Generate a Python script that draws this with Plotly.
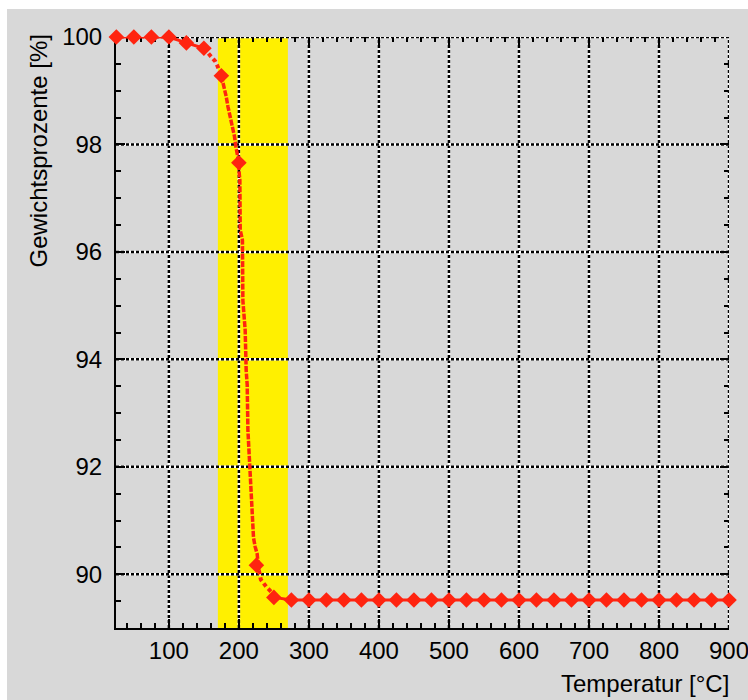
import plotly.graph_objects as go

# Thermogravimetric curve: mass percentage vs. temperature
# Sampled temperatures (every 25 °C) with measured mass
temp_steps = [25, 50, 75, 100, 125, 150, 175, 200, 225, 250, 275, 300, 325, 350,
              375, 400, 425, 450, 475, 500, 525, 550, 575, 600, 625, 650, 675, 700,
              725, 750, 775, 800, 825, 850, 875, 900]
mass_steps = [100.0, 100.0, 100.0, 100.0, 99.89, 99.79, 99.28, 97.66, 90.17, 89.57,
              89.52, 89.52, 89.52, 89.52, 89.52, 89.52, 89.52, 89.52, 89.52, 89.52,
              89.52, 89.52, 89.52, 89.52, 89.52, 89.52, 89.52, 89.52, 89.52, 89.52,
              89.52, 89.52, 89.52, 89.52, 89.52, 89.52]

# Continuous recording through the decomposition step
curve_temp = [150, 166.1, 169.4, 171.9, 175, 179.0, 181.9, 184.3, 187.6, 190.9,
              193.7, 195.7, 197.6, 200, 200.3, 201.4, 201.9, 205.1, 205.7, 209.0,
              210.4, 211.9, 212.9, 215.1, 218.6, 220.0, 220.9, 223.3, 226.1, 228.6,
              231.4, 239.0, 247.1, 250]
curve_mass = [99.79, 99.55, 99.46, 99.39, 99.28, 99.07, 98.89, 98.71, 98.52, 98.33,
              98.15, 97.96, 97.81, 97.66, 97.49, 97.34, 96.41, 96.22, 95.10, 94.54,
              93.80, 93.52, 92.68, 92.12, 91.47, 91.00, 90.68, 90.51, 90.38, 90.07,
              89.90, 89.77, 89.66, 89.57]

# Highlighted decomposition window
band_temp = [170, 270]

x_ticks = [100, 200, 300, 400, 500, 600, 700, 800, 900]
y_ticks = [90, 92, 94, 96, 98, 100]
x_range = [24.5, 900]
y_range = [89, 100]

RED = "#ff2410"
GRAY = "#d8d8d8"
YELLOW = "#fff000"
FONT = "Liberation Sans, Arial, sans-serif"
FS = 24

# plot box in pixels: left 116, right 729, top 37, bottom 628
W, H = 748, 700
L, R, T, B = 116, 19, 37, 72
pw, ph = W - L - R, H - T - B


def px_x(p):
    return (p - L) / pw


def px_y(p):
    return (H - B - p) / ph


fig = go.Figure()


def seg(lo, hi):
    xs, ys = [], []
    for t, m in zip(curve_temp, curve_mass):
        if lo <= t <= hi:
            xs.append(t)
            ys.append(m)
    return xs, ys


# dotted shoulders of the recorded curve
d1x, d1y = seg(150, 175)
d2x, d2y = seg(228, 250)
fig.add_trace(go.Scatter(x=d1x + [None] + d2x, y=d1y + [None] + d2y, mode="lines",
                         line=dict(color=RED, width=4, dash="4px,3px"),
                         hoverinfo="skip", showlegend=False, cliponaxis=False))
# dashed steep part
sx, sy = seg(175, 228.6)
fig.add_trace(go.Scatter(x=sx, y=sy, mode="lines",
                         line=dict(color=RED, width=3.5, dash="6px,1.5px"),
                         hoverinfo="skip", showlegend=False, cliponaxis=False))

# solid connections on the plateaus
lx = [t for t in temp_steps if t <= 150] + [None] + [t for t in temp_steps if t >= 250]
ly = [m for t, m in zip(temp_steps, mass_steps) if t <= 150] + [None] + \
     [m for t, m in zip(temp_steps, mass_steps) if t >= 250]
fig.add_trace(go.Scatter(x=lx, y=ly, mode="lines", line=dict(color=RED, width=3),
                         hoverinfo="skip", showlegend=False, cliponaxis=False))

# measurement points
fig.add_trace(go.Scatter(x=temp_steps, y=mass_steps, mode="markers",
                         marker=dict(symbol="diamond", size=12, color=RED, line=dict(width=0)),
                         showlegend=False, cliponaxis=False))

# invisible trace to hold the mirrored top/right axes
fig.add_trace(go.Scatter(x=[x_range[0]], y=[y_range[0]], xaxis="x2", yaxis="y2",
                         mode="markers", marker=dict(opacity=0), hoverinfo="skip",
                         showlegend=False))

shapes = [
    dict(type="rect", xref="paper", yref="paper", x0=px_x(7), x1=px_x(W + 2),
         y0=px_y(H + 2), y1=px_y(9), fillcolor=GRAY, line=dict(width=0), layer="below"),
    dict(type="rect", xref="x", yref="paper", x0=band_temp[0], x1=band_temp[1],
         y0=0, y1=1, fillcolor=YELLOW, line=dict(width=0), layer="below"),
]
grid_style = dict(color="black", width=2.5, dash="3px,2px")
for xv in x_ticks:
    shapes.append(dict(type="line", xref="x", yref="paper", x0=xv, x1=xv, y0=0, y1=1,
                       line=dict(color="white", width=2.5), layer="below"))
    shapes.append(dict(type="line", xref="x", yref="paper", x0=xv, x1=xv, y0=0, y1=1,
                       line=grid_style, layer="below"))
for yv in y_ticks:
    shapes.append(dict(type="line", xref="paper", yref="y", x0=0, x1=1, y0=yv, y1=yv,
                       line=dict(color="white", width=2.5), layer="below"))
    shapes.append(dict(type="line", xref="paper", yref="y", x0=0, x1=1, y0=yv, y1=yv,
                       line=grid_style, layer="below"))

tick_common = dict(ticks="inside", ticklen=9, tickwidth=2, tickcolor="black",
                   showgrid=False, zeroline=False, layer="below traces", automargin=False)
minor_x = dict(ticks="inside", ticklen=5, tickwidth=2, tickcolor="black",
               dtick=20, tick0=0, showgrid=False)
minor_y = dict(ticks="inside", ticklen=5, tickwidth=2, tickcolor="black",
               dtick=0.5, tick0=0, showgrid=False)

fig.update_layout(
    width=W, height=H,
    margin=dict(l=L, r=R, t=T, b=B, pad=0, autoexpand=False),
    paper_bgcolor="white",
    plot_bgcolor="rgba(0,0,0,0)",
    font=dict(family=FONT, size=FS, color="black"),
    shapes=shapes,
    xaxis=dict(range=x_range, tickmode="linear", tick0=0, dtick=100,
               showline=True, linecolor="black", linewidth=2,
               tickfont=dict(family=FONT, size=FS, color="black"),
               ticklabelstandoff=0, ticklabeloverflow="allow",
               minor=minor_x, **tick_common),
    yaxis=dict(range=y_range, tickmode="linear", tick0=0, dtick=2,
               showline=True, linecolor="black", linewidth=2,
               tickfont=dict(family=FONT, size=FS, color="black"),
               ticklabelstandoff=7, ticklabeloverflow="allow",
               minor=minor_y, **tick_common),
    xaxis2=dict(range=x_range, overlaying="x", side="top", tickmode="linear", tick0=0,
                dtick=100, showticklabels=False, showline=False, minor=minor_x,
                **tick_common),
    yaxis2=dict(range=y_range, overlaying="y", side="right", tickmode="linear", tick0=0,
                dtick=2, showticklabels=False, showline=False, minor=minor_y,
                **tick_common),
    annotations=[
        dict(text="Gewichtsprozente [%]", textangle=-90, xref="paper", yref="paper",
             x=px_x(38), y=px_y(33), xanchor="center", yanchor="top", showarrow=False,
             font=dict(family=FONT, size=FS, color="black")),
        dict(text="Temperatur [°C]", xref="paper", yref="paper",
             x=px_x(731), y=px_y(683), xanchor="right", yanchor="middle", showarrow=False,
             font=dict(family=FONT, size=FS, color="black")),
    ],
)

fig.write_html("out.html")
